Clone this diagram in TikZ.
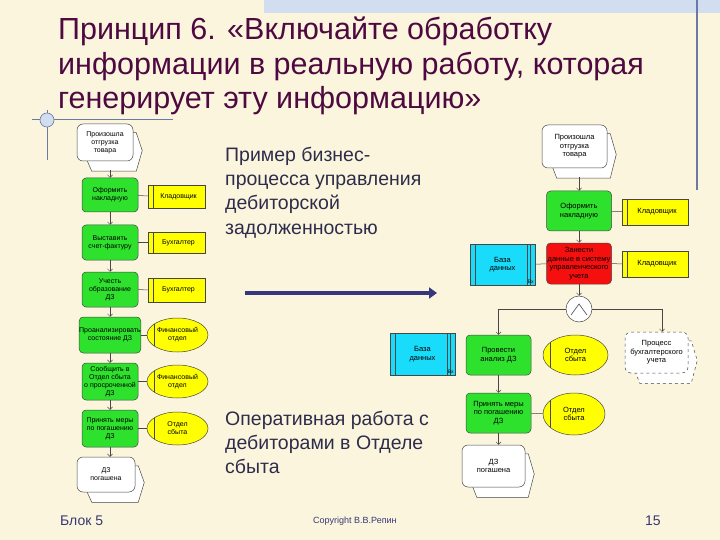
\documentclass[tikz,border=0pt]{standalone}
\usepackage{fontspec}
\setmainfont{Liberation Sans}
\usetikzlibrary{arrows.meta,calc,shapes.geometric}
\definecolor{bgcream}{RGB}{252,245,222}
\definecolor{stripe}{RGB}{208,222,240}
\definecolor{deco}{RGB}{110,120,165}
\definecolor{titlec}{RGB}{78,10,64}
\definecolor{bodyc}{RGB}{45,45,75}
\definecolor{footc}{RGB}{55,55,115}
\definecolor{fgreen}{RGB}{45,225,45}
\definecolor{oyellow}{RGB}{255,255,0}
\definecolor{dcyan}{RGB}{25,220,250}
\definecolor{fred}{RGB}{245,15,15}
\definecolor{edge}{RGB}{70,70,70}
\definecolor{arrowc}{RGB}{55,55,125}
\pgfdeclarelayer{back}
\pgfdeclarelayer{shadow}
\pgfsetlayers{back,shadow,main}
\tikzset{
  base/.style={font=\fontsize{7}{8}\selectfont, align=center, inner sep=0pt, draw=edge, line width=0.5pt},
  rbase/.style={base, font=\fontsize{7.5}{8.5}\selectfont},
  func/.style={rounded corners=4pt, fill=fgreen},
  funcr/.style={rounded corners=4pt, fill=fred},
  org/.style={fill=oyellow, path picture={\draw[edge] ([xshift=5pt]path picture bounding box.north west) -- ([xshift=5pt]path picture bounding box.south west);}},
  orge/.style={ellipse, fill=oyellow, path picture={\draw[edge] ([xshift=7pt]path picture bounding box.north west) -- ([xshift=7pt]path picture bounding box.south west);}},
  dbase/.style={fill=dcyan, path picture={
     \draw[edge] ([xshift=5pt]path picture bounding box.north west) -- ([xshift=5pt]path picture bounding box.south west);
     \draw[edge] ([xshift=-8pt]path picture bounding box.north east) -- ([xshift=-8pt]path picture bounding box.south east);
     \draw[edge] ([xshift=-5pt]path picture bounding box.north east) -- ([xshift=-5pt]path picture bounding box.south east);}},
  evfront/.style={rounded corners=6pt, fill=white},
  conn/.style={draw=edge, line width=0.5pt},
  arr/.style={conn, -{Straight Barb[length=2.5pt,width=5pt]}},
  titletxt/.style={anchor=base west, inner sep=0pt, text=titlec, font=\fontsize{30.5}{34}\selectfont},
  bodytxt/.style={anchor=base west, inner sep=0pt, text=bodyc, font=\fontsize{19.5}{24}\selectfont},
  foottxt/.style={anchor=base west, inner sep=0pt, text=footc, font=\fontsize{14}{16}\selectfont},
}
\newcommand\evshadow[2][]{%
  \begin{pgfonlayer}{shadow}
  \path[draw=edge, fill=white, line width=0.5pt, #1]
   let \p1=(#2.north west), \p2=(#2.south east), \n1={(\y1+\y2)/2} in
   (\x1+10pt,\y1-9pt) -- (\x2+3pt,\y1-9pt) -- (\x2+9pt,\n1-8pt) -- (\x2+3pt,\y2-10pt)
   -- (\x1+15pt,\y2-10pt) -- (\x1+6pt,\n1-8pt) -- cycle;
  \end{pgfonlayer}}
\begin{document}
\begin{tikzpicture}[x=1pt,y=-1pt]
\useasboundingbox (0,0) rectangle (720,540);
\begin{pgfonlayer}{back}
  \fill[bgcream] (0,0) rectangle (720,540);
  \fill[stripe] (264,0) rectangle (720,13);
  \draw[deco, line width=1.2pt] (697,0) -- (697,190);
  \draw[deco, line width=0.8pt] (32,119) -- (173,119);
  \draw[deco, line width=0.8pt] (47,110) -- (47,160);
  \draw[deco, fill=stripe, line width=0.6pt] (47,120) circle (7);
\end{pgfonlayer}

% title
\node[titletxt] (t1) at (58,40) {Принцип 6. «Включайте обработку};
\node[titletxt] (t2) at (58,75) {информации в реальную работу, которая};
\node[titletxt] (t3) at (58,109) {генерирует эту информацию»};

% middle texts
\node[bodytxt] (m1) at (225,162) {Пример бизнес-};
\node[bodytxt] (m2) at (225,186) {процесса управления};
\node[bodytxt] (m3) at (225,210) {дебиторской};
\node[bodytxt] (m4) at (225,234) {задолженностью};
\node[bodytxt] (m5) at (225,425) {Оперативная работа с};
\node[bodytxt] (m6) at (225,449) {дебиторами в Отделе};
\node[bodytxt] (m7) at (225,473) {сбыта};

% footer
\node[foottxt] (f1) at (60,525) {Блок 5};
\node[foottxt, font=\fontsize{9}{10}\selectfont] (f2) at (313,523) {Copyright В.В.Репин};
\node[foottxt] (f3) at (645,525) {15};

% big arrow
\coordinate (a1) at (245,293);
\coordinate (a2) at (437,293);
\draw[arrowc, line width=4pt, -{Triangle[length=8pt,width=11pt]}] (a1) -- (a2);

% ---------- left column ----------
\node[base, evfront, minimum width=56, minimum height=37] (le1) at (105,142.5) {Произошла\\отгрузка\\товара};
\node[base, func, minimum width=56, minimum height=34] (lf1) at (110,195) {Оформить\\накладную};
\node[base, org, minimum width=57, minimum height=23] (ly1) at (176.5,196.5) {\hspace{4pt}Кладовщик};
\node[base, func, minimum width=56, minimum height=35] (lf2) at (110,242.5) {Выставить\\счет-фактуру};
\node[base, org, minimum width=57, minimum height=21] (ly2) at (176.5,242.5) {\hspace{4pt}Бухгалтер};
\node[base, func, minimum width=56, minimum height=35] (lf3) at (110,289.5) {Учесть\\образование\\ДЗ};
\node[base, org, minimum width=57, minimum height=24] (ly3) at (176.5,290) {\hspace{4pt}Бухгалтер};
\node[base, func, minimum width=56, minimum height=36] (lf4) at (110,335) {Проанализировать\\состояние ДЗ};
\node[base, orge, minimum width=61, minimum height=34] (lo1) at (177.5,335) {Финансовый\\отдел};
\node[base, func, minimum width=56, minimum height=37] (lf5) at (110,381.5) {Сообщить в\\Отдел сбыта\\о просроченной\\ДЗ};
\node[base, orge, minimum width=61, minimum height=33] (lo2) at (177.5,381.5) {Финансовый\\отдел};
\node[base, func, minimum width=56, minimum height=37] (lf6) at (110,428.5) {Принять меры\\по погашению\\ДЗ};
\node[base, orge, minimum width=61, minimum height=33] (lo3) at (177.5,428.5) {Отдел\\сбыта};
\node[base, evfront, minimum width=58, minimum height=35] (le2) at (106,474.5) {ДЗ\\погашена};
\evshadow{le1}
\evshadow{le2}

\coordinate (le1b) at ([yshift=-9pt]le1.south);
\draw[arr] (le1b -| lf1.north) -- (lf1.north);
\draw[arr] (lf1) -- (lf2);
\draw[arr] (lf2) -- (lf3);
\draw[arr] (lf3) -- (lf4);
\draw[arr] (lf4) -- (lf5);
\draw[arr] (lf5) -- (lf6);
\draw[arr] (lf6.south) -- (lf6.south |- le2.north);
\draw[conn] (lf1) -- (ly1);
\draw[conn] (lf2) -- (ly2);
\draw[conn] (lf3) -- (ly3);
\draw[conn] (lf4) -- (lo1);
\draw[conn] (lf5) -- (lo2);
\draw[conn] (lf6) -- (lo3);

% ---------- right diagram ----------
\node[rbase, evfront, minimum width=65, minimum height=43] (re1) at (574.5,146.5) {Произошла\\отгрузка\\товара};
\node[rbase, func, minimum width=65, minimum height=40] (rf1) at (579,211) {Оформить\\накладную};
\node[rbase, org, minimum width=66, minimum height=26] (ry1) at (655,212) {\hspace{4pt}Кладовщик};
\node[rbase, funcr, minimum width=65, minimum height=41] (rf2) at (579,263.5) {Занести\\данные в систему\\управленческого\\учета};
\node[rbase, org, minimum width=66, minimum height=26] (ry2) at (655,264) {\hspace{4pt}Кладовщик};
\node[rbase, dbase, minimum width=65, minimum height=41] (rd1) at (502.5,264.5) {База\\данных};
\node[inner sep=0.5pt, anchor=south east, font=\fontsize{5}{5}\selectfont] (rd1x) at ([xshift=-1pt,yshift=1pt]rd1.south east) {Вх};
\node[circle, draw=edge, fill=white, line width=0.5pt, minimum size=26, inner sep=0pt] (and) at (579,309) {};
\draw[edge, line width=0.6pt] ([shift={(-8pt,-6pt)}]and.center) -- ([shift={(0pt,5pt)}]and.center) -- ([shift={(8pt,-6pt)}]and.center);
\node[rbase, func, minimum width=65, minimum height=40] (rf3) at (498.5,355) {Провести\\анализ ДЗ};
\node[rbase, dbase, minimum width=65, minimum height=42] (rd2) at (422.5,354) {База\\данных};
\node[inner sep=0.5pt, anchor=south east, font=\fontsize{5}{5}\selectfont] (rd2x) at ([xshift=-1pt,yshift=1pt]rd2.south east) {Вх};
\node[rbase, orge, minimum width=65, minimum height=40] (ro1) at (575.5,355) {Отдел\\сбыта};
\node[rbase, evfront, dashed, minimum width=63, minimum height=41] (re2) at (656.5,352.5) {Процесс\\бухгалтерского\\учета};
\node[rbase, func, minimum width=65, minimum height=40] (rf4) at (498.5,413) {Принять меры\\по погашению\\ДЗ};
\node[rbase, orge, minimum width=62, minimum height=42] (ro2) at (574,414) {Отдел\\сбыта};
\node[rbase, evfront, minimum width=63, minimum height=42] (re3) at (493.5,466) {ДЗ\\погашена};
\evshadow{re1}
\evshadow[dashed]{re2}
\evshadow{re3}

\coordinate (re1b) at ([yshift=-9pt]re1.south);
\draw[arr] (re1b -| rf1.north) -- (rf1.north);
\draw[arr] (rf1) -- (rf2);
\draw[conn] (rf1) -- (ry1);
\draw[conn] (rf2) -- (ry2);
\draw[conn] (rd1) -- (rf2);
\draw[arr] (rf2) -- (and);
\coordinate (re2top) at ([xshift=5.5pt]re2.north);
\draw[arr] (and.west) -| (rf3.north);
\draw[arr] (and.east) -| (re2top);
\draw[arr] (rf3) -- (rf4);
\draw[conn] (rf4) -- (ro2);
\draw[arr] (rf4.south) -- (rf4.south |- re3.north);
\end{tikzpicture}
\end{document}
